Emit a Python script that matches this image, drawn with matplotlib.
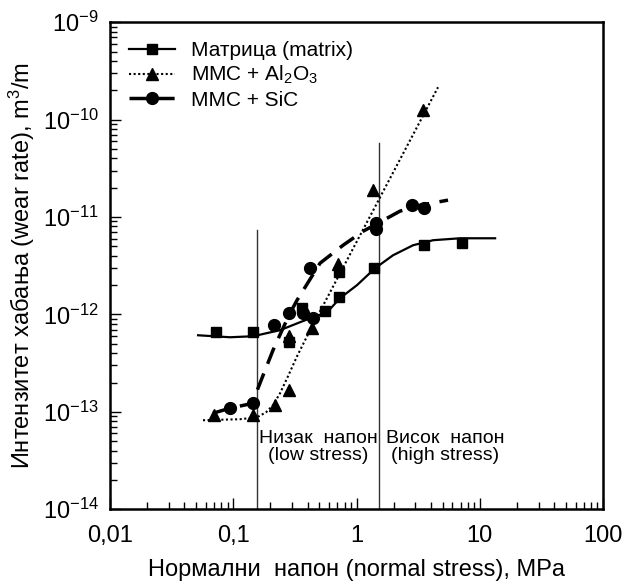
import matplotlib
matplotlib.use("Agg")
import matplotlib.pyplot as plt
from matplotlib.ticker import FixedLocator, FixedFormatter, LogLocator, NullFormatter

plt.rcParams['font.family'] = ['Liberation Sans', 'DejaVu Sans']
plt.rcParams['mathtext.fontset'] = 'custom'
plt.rcParams['mathtext.rm'] = 'Liberation Sans'
plt.rcParams['mathtext.it'] = 'Liberation Sans:italic'

# measured points (stress MPa, wear rate m3/m)
matrix_x = [0.0725, 0.1446, 0.2834, 0.3613, 0.555, 0.721, 0.721, 1.387, 3.53, 7.18]
matrix_y = [6.56e-13, 6.56e-13, 5.2e-13, 1.16e-12, 1.08e-12, 1.5e-12, 2.71e-12, 2.98e-12, 5.13e-12, 5.38e-12]

al2o3_x = [0.0698, 0.1446, 0.218, 0.2834, 0.2834, 0.4356, 0.708, 1.362, 3.47]
al2o3_y = [9.2e-14, 9.2e-14, 1.17e-13, 1.67e-13, 5.97e-13, 7.2e-13, 3.27e-12, 1.88e-11, 1.25e-10]

sic_x = [0.0941, 0.1446, 0.2143, 0.2834, 0.368, 0.444, 0.42, 1.44, 1.44, 2.82, 3.53]
sic_y = [1.09e-13, 1.22e-13, 7.74e-13, 1.03e-12, 1.03e-12, 9.14e-13, 2.98e-12, 7.5e-12, 8.6e-12, 1.32e-11, 1.23e-11]

# fitted curves
matrix_fit_x = [0.0518, 0.0941, 0.1446, 0.2394, 0.348, 0.4437, 0.5762, 0.7346, 1.009, 1.413, 1.977, 2.872, 4.177, 6.92, 13.3]
matrix_fit_y = [6.11e-13, 5.83e-13, 5.97e-13, 6.89e-13, 8.32e-13, 9.35e-13, 1.05e-12, 1.47e-12, 2.0e-12, 2.98e-12, 4.05e-12, 5.13e-12, 5.78e-12, 6.05e-12, 6.05e-12]

al2o3_fit_x = [0.0568, 0.1135, 0.156, 0.1845, 0.210, 0.2394, 0.278, 0.329, 0.42, 4.58]
al2o3_fit_y = [8.2e-14, 8.4e-14, 8.8e-14, 9.9e-14, 1.17e-13, 1.55e-13, 2.32e-13, 3.72e-13, 6.9e-13, 2.15e-10]

sic_fit_x = [0.0685, 0.0941, 0.1446, 0.1588, 0.181, 0.21, 0.2486, 0.2886, 0.329, 0.5058, 0.7771, 1.129, 1.439, 2.254, 3.27, 5.52]
sic_fit_y = [9.68e-14, 1.09e-13, 1.225e-13, 1.75e-13, 2.67e-13, 4.29e-13, 6.88e-13, 1.03e-12, 1.4e-12, 3.36e-12, 5.13e-12, 7.14e-12, 8.43e-12, 1.15e-11, 1.32e-11, 1.49e-11]

# stress regime boundaries
low_x, low_top = 0.156, 7.3e-12
high_x, high_top = 1.52, 5.7e-11

xticks = [0.01, 0.1, 1, 10, 100]
xtick_labels = ['0,01', '0,1', '1', '10', '100']
yticks = [1e-14, 1e-13, 1e-12, 1e-11, 1e-10, 1e-9]
ytick_labels = ['10$^{-14}$', '10$^{-13}$', '10$^{-12}$', '10$^{-11}$', '10$^{-10}$', '10$^{-9}$']

fig = plt.figure(figsize=(6.25, 5.84), dpi=100)
ax = fig.add_axes([0.176, 0.128, 0.789, 0.834])

ax.set_xscale('log')
ax.set_yscale('log')
ax.set_xlim(0.01, 100)
ax.set_ylim(1e-14, 1e-9)

ax.plot([low_x, low_x], [1e-14, low_top], color='#333333', lw=1.0)
ax.plot([high_x, high_x], [1e-14, high_top], color='#333333', lw=1.0)

ax.plot(matrix_fit_x, matrix_fit_y, color='black', lw=1.6, ls='-')
ax.plot(al2o3_fit_x, al2o3_fit_y, color='black', lw=1.5, ls=(0, (1, 1.2)))
ax.plot(sic_fit_x, sic_fit_y, color='black', lw=2.5, ls=(0, (5, 3)))

ax.plot(matrix_x, matrix_y, 's', color='black', ms=7)
ax.plot(al2o3_x, al2o3_y, '^', color='black', ms=8)
ax.plot(sic_x, sic_y, 'o', color='black', ms=8.5)

# legend proxies
ax.plot([], [], 's-', color='black', ms=7, lw=1.6, label='Матрица (matrix)')
ax.plot([], [], '^', ls=(0, (1, 1.2)), color='black', ms=8, lw=1.5, label='MMC + Al$_2$O$_3$')
ax.plot([], [], 'o', ls=(0, (5, 3)), color='black', ms=8.5, lw=2.5, label='MMC + SiC')
ax.legend(loc='upper left', bbox_to_anchor=(0.0, 1.0), frameon=False, fontsize=15,
          handlelength=2.2, labelspacing=0.2, handletextpad=0.8, borderaxespad=0.5)

ax.text(0.49, 2.9e-14, 'Низак  напон\n(low stress)', ha='center', va='bottom', fontsize=14, linespacing=1.05)
ax.text(5.2, 2.9e-14, 'Висок  напон\n(high stress)', ha='center', va='bottom', fontsize=14, linespacing=1.05)

ax.xaxis.set_major_locator(FixedLocator(xticks))
ax.xaxis.set_major_formatter(FixedFormatter(xtick_labels))
ax.xaxis.set_minor_locator(LogLocator(base=10, subs=range(2, 10)))
ax.xaxis.set_minor_formatter(NullFormatter())
ax.yaxis.set_major_locator(FixedLocator(yticks))
ax.yaxis.set_major_formatter(FixedFormatter(ytick_labels))
ax.yaxis.set_minor_locator(LogLocator(base=10, subs=range(2, 10)))
ax.yaxis.set_minor_formatter(NullFormatter())

ax.tick_params(which='both', direction='in', top=False, right=False, labelsize=17, width=1.0)
ax.tick_params(axis='x', which='major', length=8, pad=11)
ax.tick_params(axis='y', which='major', length=8, pad=8)
ax.tick_params(which='minor', length=5)
for s in ax.spines.values():
    s.set_linewidth(1.8)

ax.set_xlabel('Нормални  напон (normal stress), MPa', fontsize=17, labelpad=9)
ax.set_ylabel('Интензитет хабања (wear rate), m$^3$/m', fontsize=17, labelpad=4)

fig.savefig('out.png', dpi=100)
